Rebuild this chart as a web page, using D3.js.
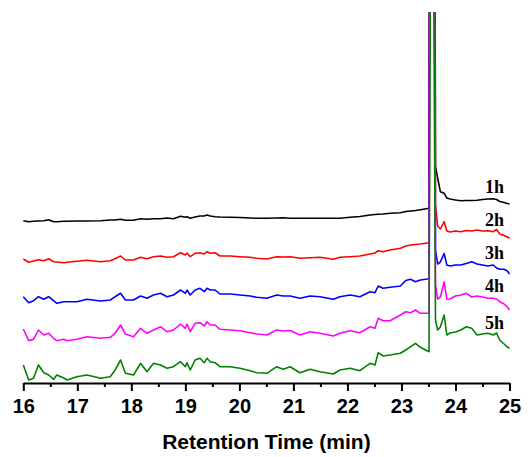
<!DOCTYPE html>
<html>
<head>
<meta charset="utf-8">
<script src="https://cdn.jsdelivr.net/npm/d3@7"></script>
<style>
  body { margin: 0; background: #fff; }
</style>
</head>
<body>
<div id="graph"></div>
<script>
// retention times (min), shared by every trace
const times = [16.00, 16.10, 16.19, 16.28, 16.38, 16.47, 16.56, 16.62, 16.75, 16.81,
  16.99, 17.18, 17.43, 17.61, 17.70, 17.80, 17.89, 18.04, 18.17, 18.29,
  18.41, 18.54, 18.66, 18.78, 18.91, 19.00, 19.03, 19.09, 19.18, 19.27,
  19.35, 19.40, 19.46, 19.55, 19.64, 19.83, 20.01, 20.20, 20.32, 20.51,
  20.69, 20.81, 20.94, 21.12, 21.31, 21.49, 21.74, 21.86, 22.05, 22.23,
  22.42, 22.51, 22.57, 22.66, 22.79, 22.98, 23.08, 23.17, 23.26, 23.35,
  23.51, 23.56, 23.63, 23.67, 23.72, 23.79, 23.84, 23.90, 24.00, 24.10,
  24.20, 24.30, 24.40, 24.50, 24.60, 24.70, 24.76, 24.82, 24.90, 24.96, 25.00];

// detector signal (stacked, a.u.)
const signal1h = [162.3, 161.3, 161.7, 162, 162.3, 163.3, 161.3, 161.3, 161.7, 161.7,
  162, 162, 162.3, 163, 163, 163.7, 162.7, 162.7, 164.3, 163.7,
  164.3, 164.3, 165, 164.3, 166.7, 165.7, 166.3, 164.7, 166, 167,
  167, 168, 167, 166.3, 166, 165.7, 165.5, 165, 164.7, 164.7,
  165, 165.2, 164.7, 164.7, 164.7, 164.7, 164.7, 164.7, 165.7, 166.5,
  168, 168.5, 168.7, 169, 169.7, 170.3, 171.5, 172, 172.5, 173.3,
  174.7, 2000, 216.7, 205, 191.3, 189.7, 185, 184, 183, 182.3,
  182.5, 182.5, 182.7, 183.5, 184, 184.3, 183.5, 181.5, 180.5, 179.5, 179];
const signal2h = [124, 120.7, 122, 123.3, 122.3, 124.3, 121.3, 121, 120.3, 120.7,
  121.7, 122.7, 121.3, 122.3, 124.3, 127, 123, 123, 125.7, 124.3,
  126.3, 127, 125.7, 126.3, 130.3, 128, 130, 126.3, 129.7, 130.3,
  129, 131.3, 129.7, 130.3, 127, 127, 126.3, 125.7, 124.7, 124,
  126.3, 126, 126.3, 124.7, 125.3, 125.7, 123.7, 125.7, 126.3, 127,
  129, 130, 132.3, 131.3, 133, 134.7, 137, 138, 138.5, 139,
  140.3, 1800, 178, 157, 154, 161.3, 152, 151, 152, 151.3,
  152.5, 152, 153, 152, 152.3, 151.3, 153.5, 149, 147.5, 146, 144.7];
const signal3h = [86.3, 80.3, 82.3, 86.3, 83.7, 86.3, 82.3, 79.7, 81.3, 81.3,
  81.3, 83.7, 82, 83, 86.3, 89.7, 83, 83, 87, 84.7,
  88, 89.7, 86.3, 88, 93, 89.7, 93, 88, 93, 94.7,
  91.3, 94.7, 93, 93, 89, 89, 88, 87, 85.7, 84.7,
  88, 87, 87, 84.7, 87, 86.3, 83.7, 86.3, 88, 86.3,
  91.3, 90.3, 97, 94.7, 95.7, 97, 102.5, 103.7, 101.3, 103,
  104.3, 1500, 133, 119, 121, 129.5, 118, 117, 118, 118,
  119.5, 121.3, 119, 118, 117, 118, 115, 113.7, 113.7, 112, 109];
const signal4h = [54, 42.3, 43.7, 53, 48, 49.7, 44.7, 42.3, 43.7, 42.3,
  43.7, 46.3, 44.7, 45.7, 49.7, 58, 49, 46.3, 54.7, 49.7,
  53, 56.3, 51.3, 53, 59, 54.7, 59, 51.3, 59.7, 60.3,
  57, 61.3, 58, 58, 53.7, 53, 52.3, 50.3, 49, 48,
  53, 52, 52.5, 48, 51.3, 49.7, 47, 49.7, 52.3, 50.3,
  56.3, 54.7, 64.7, 62.3, 62.3, 68, 71.3, 70.3, 73, 69.7,
  69.7, 1200, 98, 84, 86, 101.3, 83.7, 84, 87, 88,
  89.7, 86, 87, 86, 84.7, 84.7, 84, 81.3, 79, 76, 73];
const signal5h = [18, 3, 4.7, 18, 10.3, 8, 3.7, 8, 5, 3,
  6.3, 8, 4.7, 6.3, 13, 23, 9.7, 8, 19.7, 11.3,
  19.7, 18, 14.7, 16.3, 21.3, 16.3, 20.3, 13, 23, 24.7,
  20.3, 24.7, 21.3, 20.3, 16.3, 16.3, 14.7, 12.3, 10.3, 9.7,
  16.3, 13.7, 16.3, 10.3, 13.7, 11.3, 9, 13, 14.7, 12.3,
  19.7, 18, 30.3, 27, 28, 29.7, 33, 36.3, 39.7, 35.7,
  31.3, 800, 63, 53, 56, 68, 48, 50, 51, 53,
  56.3, 54.7, 48, 49, 49.7, 48, 50, 43, 39, 36, 34.7];

const seriesNames = ["1h", "2h", "3h", "4h", "5h"];
const seriesValues = [signal1h, signal2h, signal3h, signal4h, signal5h];
const xTicks = [16, 17, 18, 19, 20, 21, 22, 23, 24, 25];
const xMinorTicks = [16.5, 17.5, 18.5, 19.5, 20.5, 21.5, 22.5, 23.5, 24.5];
const xTitle = "Retention Time (min)";
const labelTime = 24.70;

drawChromatogram();

function drawChromatogram() {
    const width = 528, height = 457;
    const plot = { left: 23.3, right: 509.5, top: 12, bottom: 383 };

    const svg = d3.select("#graph").append("svg")
        .attr("width", width)
        .attr("height", height);

    const x = d3.scaleLinear()
        .domain([16, 25])
        .range([plot.left, plot.right]);

    const y = d3.scaleLinear()
        .domain([0, 371])
        .range([plot.bottom, plot.top]);

    const color = d3.scaleOrdinal()
        .domain(seriesNames)
        .range(["#000000", "#ff0000", "#0000ff", "#ff00ff", "#008000"]);

    svg.append("defs").append("clipPath")
        .attr("id", "plot-clip")
        .append("rect")
        .attr("x", 0)
        .attr("y", plot.top)
        .attr("width", width)
        .attr("height", plot.bottom - plot.top);

    const line = d3.line()
        .x((d, i) => x(times[i]))
        .y(d => y(d));

    svg.append("g")
        .attr("clip-path", "url(#plot-clip)")
        .selectAll("path")
        .data(seriesValues)
        .join("path")
        .attr("d", line)
        .attr("fill", "none")
        .attr("stroke", (d, i) => color(seriesNames[i]))
        .attr("stroke-width", 1.6)
        .attr("stroke-linejoin", "round");

    // series labels sit just above each trace near the right end
    const li = times.indexOf(labelTime);
    svg.append("g")
        .selectAll("text")
        .data(seriesNames)
        .join("text")
        .attr("x", 485)
        .attr("y", (d, i) => y(seriesValues[i][li]) - 6)
        .text(d => d)
        .attr("font-family", "'Liberation Serif', 'Times New Roman', serif")
        .attr("font-weight", "bold")
        .attr("font-size", "18px")
        .attr("fill", "#000");

    addAxis(svg, plot, x);
}

function addAxis(svg, plot, x) {
    const minor = svg.append("g")
        .attr("transform", `translate(0,${plot.bottom})`)
        .call(d3.axisBottom(x).tickValues(xMinorTicks).tickSize(4).tickFormat(""));
    minor.select(".domain").remove();
    minor.selectAll("line").attr("stroke", "#000").attr("stroke-width", 2);

    const major = svg.append("g")
        .attr("transform", `translate(0,${plot.bottom})`)
        .call(d3.axisBottom(x)
            .tickValues(xTicks)
            .tickSize(8)
            .tickSizeOuter(0)
            .tickPadding(8)
            .tickFormat(d3.format("d")));
    major.select(".domain").attr("stroke", "#000").attr("stroke-width", 2);
    major.selectAll("line").attr("stroke", "#000").attr("stroke-width", 2);
    major.selectAll("text")
        .attr("font-family", "'Liberation Sans', Arial, sans-serif")
        .attr("font-weight", "bold")
        .attr("font-size", "20px")
        .attr("fill", "#000");

    svg.append("text")
        .attr("x", (plot.left + plot.right) / 2)
        .attr("y", 449)
        .attr("text-anchor", "middle")
        .attr("font-family", "'Liberation Sans', Arial, sans-serif")
        .attr("font-weight", "bold")
        .attr("font-size", "21px")
        .attr("fill", "#000")
        .text(xTitle);
}
</script>
</body>
</html>
